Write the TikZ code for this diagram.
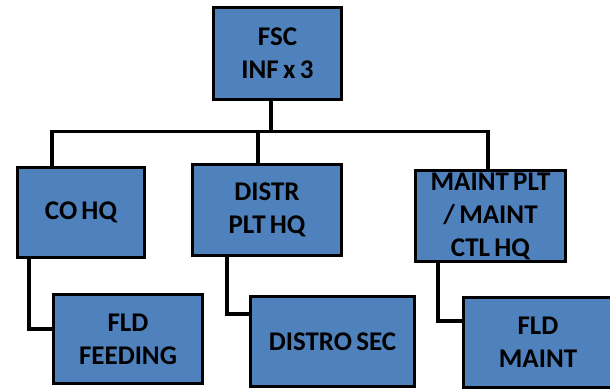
\documentclass[tikz,border=0pt]{standalone}
\usepackage{fontspec}
\setmainfont[WordSpace=0.7]{Carlito}
\definecolor{boxblue}{RGB}{79,129,189}
\begin{document}
\begin{tikzpicture}[x=1pt,y=-1pt,
  orgbox/.style={draw=black, line width=3.3pt, fill=boxblue, align=center,
    inner sep=0pt, font=\fontsize{27}{33}\selectfont\bfseries},
  link/.style={draw=black, line width=3.3pt}]
\clip (0,0) rectangle (610,389);
% boxes
\node[orgbox, minimum width=128pt, minimum height=92pt] (fsc) at (277.5,53.5) {FSC\\INF x 3};
\node[orgbox, minimum width=127pt, minimum height=90pt] (cohq) at (81,212.5) {CO HQ};
\node[orgbox, minimum width=149pt, minimum height=91pt] (distr) at (267,210) {DISTR\\PLT HQ};
\node[orgbox, minimum width=150pt, minimum height=91pt] (maint) at (490.5,216) {MAINT PLT\\/ MAINT\\CTL HQ};
\node[orgbox, minimum width=149pt, minimum height=89pt] (feed) at (128,339) {FLD\\FEEDING};
\node[orgbox, minimum width=164pt, minimum height=90pt] (distro) at (332.5,341.5) {DISTRO SEC};
\node[orgbox, minimum width=149pt, minimum height=90pt] (fldm) at (538,342.5) {FLD\\MAINT};
% bus coordinates
\coordinate (busL) at (52,131.6);
\coordinate (busR) at (488,131.6);
\coordinate (tapF) at (271,131.6);
\coordinate (tapD) at (258,131.6);
% elbows
\coordinate (elC) at (29,329);
\coordinate (elD) at (227,314);
\coordinate (elM) at (438,321);
% connectors
\draw[link] (tapF |- fsc.south) -- (tapF);
\draw[link, line cap=rect] (busL) -- (busR);
\draw[link] (busL) -- (busL |- cohq.north);
\draw[link] (tapD) -- (tapD |- distr.north);
\draw[link] (busR) -- (busR |- maint.north);
\draw[link] (elC |- cohq.south) -- (elC) -- (elC -| feed.west);
\draw[link] (elD |- distr.south) -- (elD) -- (elD -| distro.west);
\draw[link] (elM |- maint.south) -- (elM) -- (elM -| fldm.west);
\end{tikzpicture}
\end{document}
